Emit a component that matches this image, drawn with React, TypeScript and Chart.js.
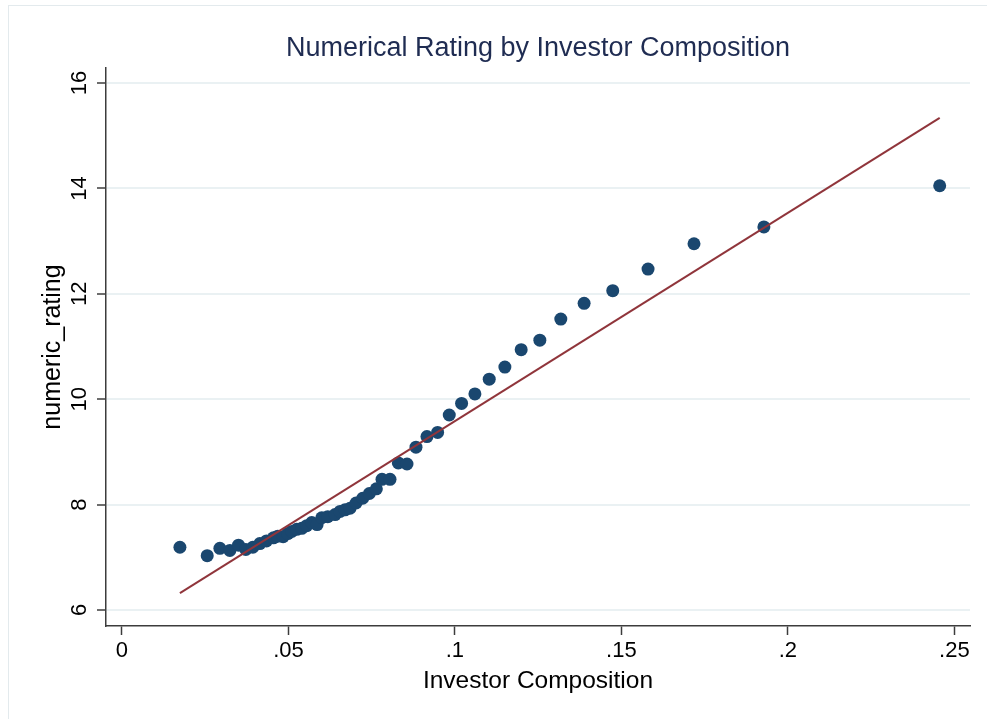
import React, { useEffect, useRef } from "react";
import { Chart, registerables } from "chart.js";

Chart.register(...registerables);

// Investor composition (x) and numeric rating (y) for each binned point
const compX = [
  0.0174, 0.0256, 0.0294, 0.0324, 0.035, 0.0372, 0.0393, 0.0414, 0.0434, 0.0455,
  0.0468, 0.0484, 0.0498, 0.051, 0.0525, 0.054, 0.0555, 0.057, 0.0586, 0.06,
  0.0618, 0.064, 0.0655, 0.067, 0.0685, 0.0703, 0.0723, 0.0743, 0.0764, 0.0781,
  0.0805, 0.083, 0.0856, 0.0883, 0.0916, 0.0948, 0.0983, 0.102, 0.106, 0.1103,
  0.115, 0.1199, 0.1255, 0.1318, 0.1388, 0.1474, 0.158, 0.1718, 0.1928, 0.2456,
];
const ratingY = [
  7.19, 7.03, 7.17, 7.13, 7.23, 7.15, 7.19, 7.26, 7.31, 7.37,
  7.4, 7.39, 7.45, 7.49, 7.53, 7.55, 7.6, 7.66, 7.62, 7.75,
  7.77, 7.81, 7.87, 7.9, 7.93, 8.03, 8.12, 8.21, 8.3, 8.48,
  8.48, 8.79, 8.77, 9.09, 9.29, 9.37, 9.7, 9.92, 10.1, 10.38,
  10.61, 10.94, 11.12, 11.52, 11.82, 12.06, 12.47, 12.95, 13.27, 14.05,
];

// Linear fit end points
const fitX = [0.0174, 0.2456];
const fitY = [6.32, 15.34];

const xTickValues = [0, 0.05, 0.1, 0.15, 0.2, 0.25];
const xTickLabels = ["0", ".05", ".1", ".15", ".2", ".25"];
const yTickValues = [6, 8, 10, 12, 14, 16];
const yTickLabels = ["6", "8", "10", "12", "14", "16"];

const titleText = "Numerical Rating by Investor Composition";
const xTitleText = "Investor Composition";
const yTitleText = "numeric_rating";

const FONT = "'Liberation Sans', Arial, Helvetica, sans-serif";

const decorPlugin = {
  id: "decor",
  beforeDraw(chart: any) {
    const ctx = chart.ctx;
    ctx.save();
    ctx.fillStyle = "#ffffff";
    ctx.fillRect(0, 0, chart.width, chart.height);
    ctx.strokeStyle = "#e3eaed";
    ctx.lineWidth = 1;
    ctx.strokeRect(8.5, 5.5, chart.width + 20, chart.height + 20);
    ctx.restore();
  },
  afterDraw(chart: any) {
    const ctx = chart.ctx;
    const area = chart.chartArea;
    const yScale = chart.scales.y;
    const cx = (area.left + area.right) / 2;
    const cy = (area.top + area.bottom) / 2;
    ctx.save();
    // title
    ctx.fillStyle = "#1f2c52";
    ctx.font = `27px ${FONT}`;
    ctx.textAlign = "center";
    ctx.textBaseline = "alphabetic";
    ctx.fillText(titleText, cx, 56);
    // x title
    ctx.fillStyle = "#000000";
    ctx.font = `24.5px ${FONT}`;
    ctx.fillText(xTitleText, cx, 688);
    // y title
    ctx.save();
    ctx.font = `25px ${FONT}`;
    ctx.translate(60, cy);
    ctx.rotate(-Math.PI / 2);
    ctx.fillText(yTitleText, 0, 0);
    ctx.restore();
    // y tick labels (rotated)
    ctx.font = `22px ${FONT}`;
    yTickValues.forEach((v, i) => {
      const py = yScale.getPixelForValue(v);
      ctx.save();
      ctx.translate(86, py);
      ctx.rotate(-Math.PI / 2);
      ctx.fillText(yTickLabels[i], 0, 0);
      ctx.restore();
    });
    ctx.restore();
  },
};

export default function App() {
  const canvasRef = useRef<HTMLCanvasElement | null>(null);

  useEffect(() => {
    document.body.style.margin = "0";
    const canvas = canvasRef.current;
    if (!canvas) return;
    const chart = new Chart(canvas, {
      type: "scatter",
      data: {
        datasets: [
          {
            type: "line",
            label: "Fitted values",
            data: fitX.map((x, i) => ({ x, y: fitY[i] })),
            borderColor: "#90353b",
            borderWidth: 2,
            pointRadius: 0,
            fill: false,
            order: 0,
          } as any,
          {
            type: "scatter",
            label: "numeric_rating",
            data: compX.map((x, i) => ({ x, y: ratingY[i] })),
            backgroundColor: "#1a476f",
            borderColor: "#1a476f",
            borderWidth: 0,
            pointRadius: 6.5,
            order: 1,
          },
        ],
      },
      options: {
        responsive: false,
        animation: false,
        devicePixelRatio: 1,
        layout: { padding: { top: 68, right: 17, bottom: 0, left: 0 } },
        plugins: {
          legend: { display: false },
          title: { display: false },
          tooltip: { enabled: false },
        },
        scales: {
          x: {
            type: "linear",
            min: -0.0048,
            max: 0.2547,
            afterFit: (s: any) => {
              s.height = 93;
            },
            afterBuildTicks: (s: any) => {
              s.ticks = xTickValues.map((v) => ({ value: v }));
            },
            grid: {
              drawOnChartArea: false,
              drawTicks: true,
              tickLength: 9,
              tickColor: "#3c3c3c",
              tickWidth: 1.5,
            },
            border: { display: true, color: "#3c3c3c", width: 1.5 },
            ticks: {
              autoSkip: false,
              maxRotation: 0,
              minRotation: 0,
              padding: 3,
              color: "#000000",
              font: { family: FONT, size: 22 },
              callback: (value: any) => {
                const idx = xTickValues.findIndex((v) => Math.abs(v - Number(value)) < 1e-9);
                return idx >= 0 ? xTickLabels[idx] : "";
              },
            },
          },
          y: {
            type: "linear",
            min: 5.696,
            max: 16.285,
            afterFit: (s: any) => {
              s.width = 106;
            },
            afterBuildTicks: (s: any) => {
              s.ticks = yTickValues.map((v) => ({ value: v }));
            },
            grid: {
              color: "#eaf1f3",
              lineWidth: 2,
              drawTicks: true,
              tickLength: 9,
              tickColor: "#3c3c3c",
              tickWidth: 1.5,
            },
            border: { display: true, color: "#3c3c3c", width: 1.5 },
            ticks: { display: false },
          },
        },
      },
      plugins: [decorPlugin],
    } as any);
    return () => chart.destroy();
  }, []);

  return (
    <div style={{ width: 987, height: 719, position: "relative" }}>
      <canvas ref={canvasRef} width={987} height={719} style={{ display: "block", width: 987, height: 719 }} />
    </div>
  );
}
